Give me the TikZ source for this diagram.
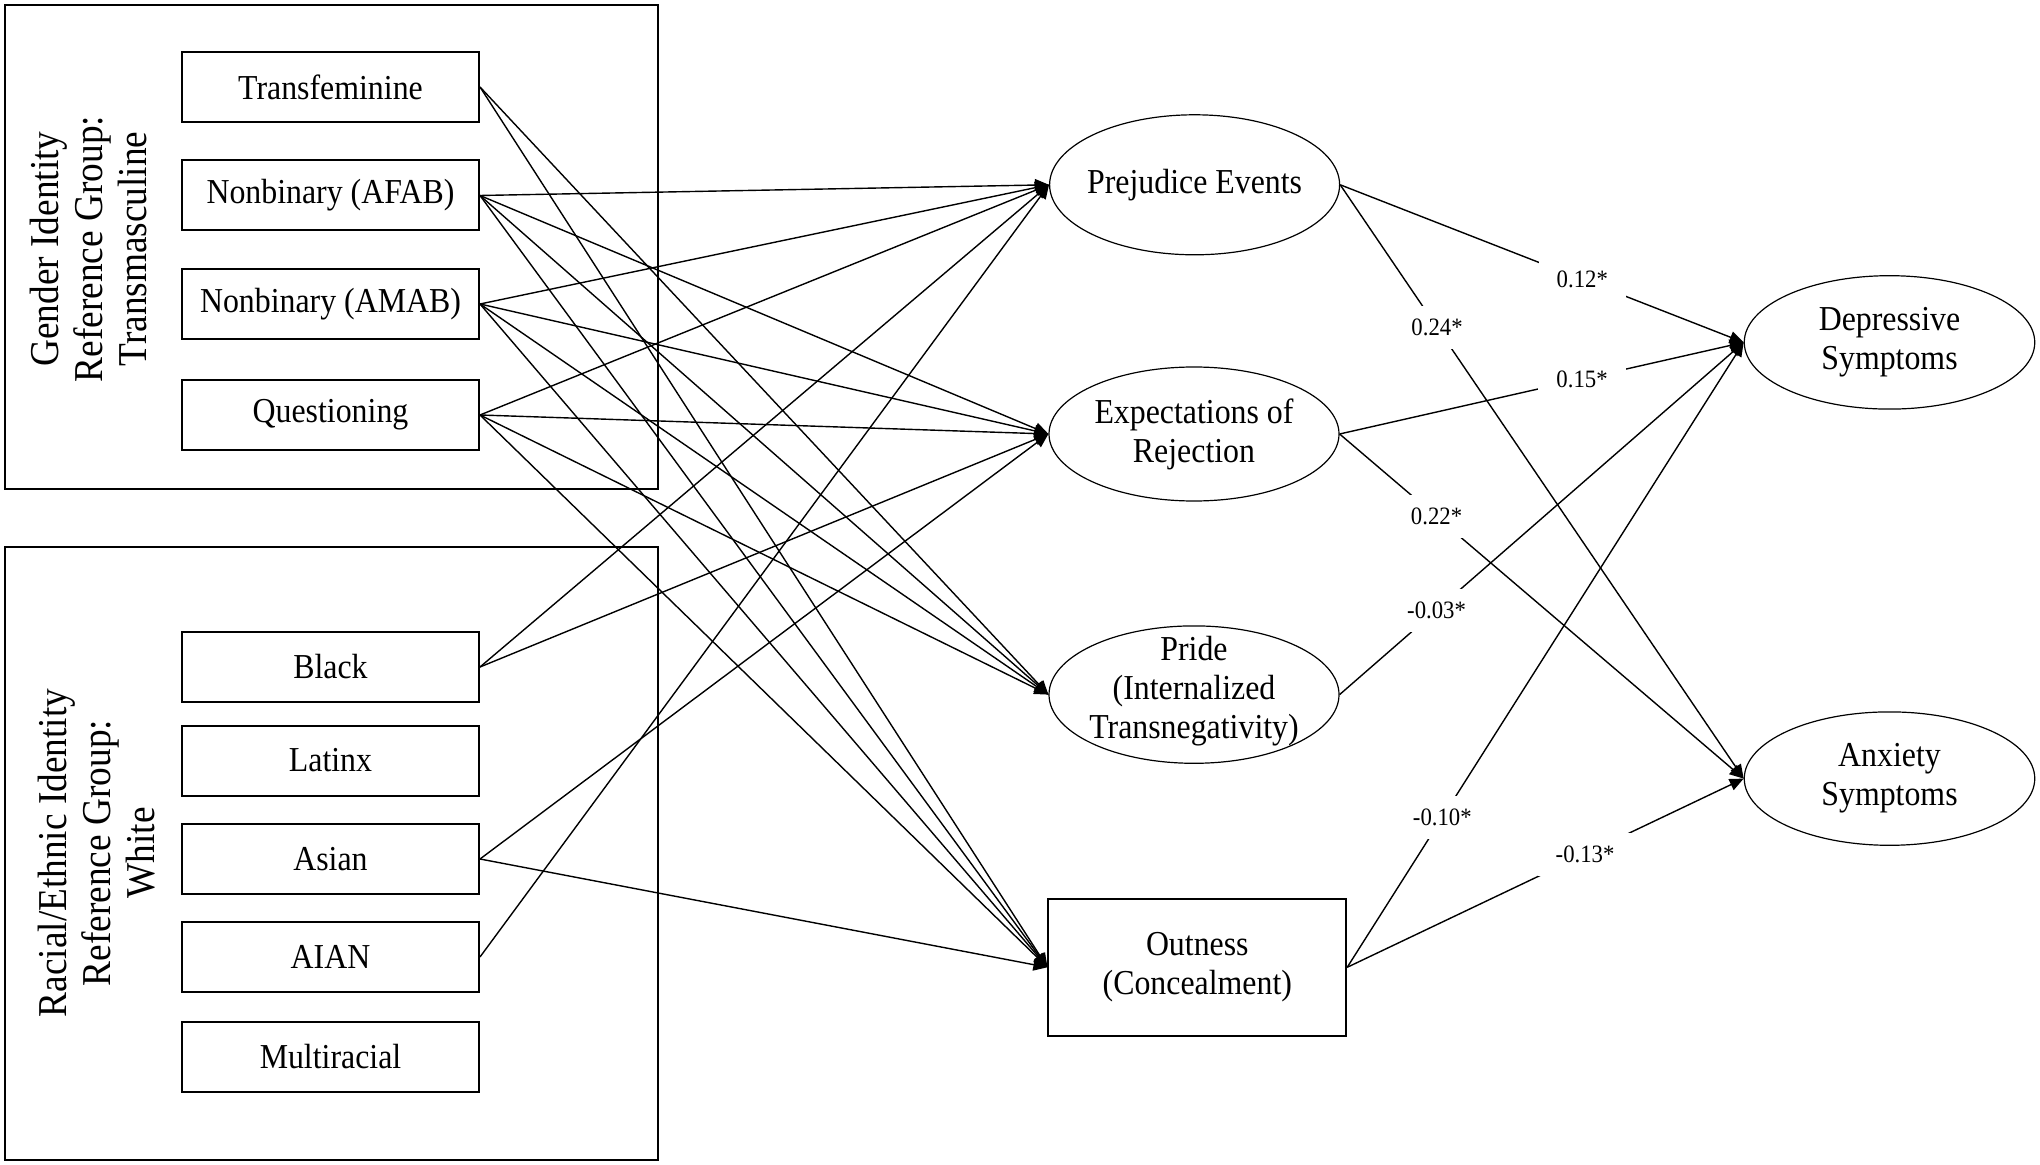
\documentclass[tikz,border=0pt]{standalone}
\usepackage{fontspec}
\setmainfont[FakeStretch=0.91]{Liberation Serif}
\usetikzlibrary{arrows.meta,shapes.geometric}
\begin{document}
\begin{tikzpicture}[x=0.5pt,y=-0.5pt,
  every node/.style={font=\fontsize{17.5}{19.5}\selectfont},
  grp/.style={draw,line width=1pt,inner sep=0,minimum width=326.5pt},
  var/.style={draw,line width=1pt,inner sep=0,minimum width=148.5pt,minimum height=35pt},
  ell/.style={draw,ellipse,line width=0.6pt,inner sep=0,minimum width=145pt,minimum height=68pt},
  lab/.style={align=center,inner sep=0},
  conn/.style={line width=0.7pt,-{Triangle[length=7pt,width=6pt]}},
  coef/.style={fill=white,inner xsep=9pt,inner ysep=6.5pt,font=\fontsize{12.5}{14}\selectfont},
  side/.style={rotate=90,align=center,inner sep=0,font=\fontsize{20.5}{22}\selectfont}
]
\useasboundingbox (0,0) rectangle (2040,1165);

% group frames
\node[grp,minimum height=242pt] (g1) at (331.5,247) {};
\node[grp,minimum height=306.5pt] (g2) at (331.5,853.5) {};
\node[side] (g1t) at (88,249) {Gender Identity\\Reference Group:\\Transmasculine};
\node[side] (g2t) at (97,853) {Racial/Ethnic Identity\\Reference Group:\\White};

% exogenous variables
\node[var] (tf) at (330.5,87) {Transfeminine};
\node[var] (afab) at (330.5,195.5) {Nonbinary (AFAB)};
\node[var] (amab) at (330.5,304) {Nonbinary (AMAB)};
\node[var] (q) at (330.5,415) {Questioning};
\node[var] (black) at (330.5,667) {Black};
\node[var] (latinx) at (330.5,760.5) {Latinx};
\node[var] (asian) at (330.5,859) {Asian};
\node[var] (aian) at (330.5,957) {AIAN};
\node[var] (multi) at (330.5,1056.5) {Multiracial};

% mediators
\node[ell,minimum height=70pt] (prej) at (1194.6,184.8) {};
\node[lab] (prejt) at (prej.center) {Prejudice Events};
\node[ell,minimum height=67pt] (exp) at (1194,434) {};
\node[lab] (expt) at (exp.center) {Expectations of\\Rejection};
\node[ell,minimum height=68.7pt] (pride) at (1194,694.6) {};
\node[lab] (pridet) at (1194,691) {Pride\\(Internalized\\Transnegativity)};
\node[draw,line width=1pt,inner sep=0,minimum width=148.9pt,minimum height=68.8pt] (out) at (1197.3,967.3) {};
\node[lab] (outt) at (out.center) {Outness\\(Concealment)};

% outcomes
\node[ell,minimum width=145.25pt,minimum height=66.7pt] (dep) at (1889.5,342.4) {};
\node[lab] (dept) at (dep.center) {Depressive\\Symptoms};
\node[ell,minimum width=145.25pt,minimum height=66.7pt] (anx) at (1889.5,778.6) {};
\node[lab] (anxt) at (anx.center) {Anxiety\\Symptoms};

% predictor paths
\foreach \s/\t in {afab/prej, amab/prej, q/prej, black/prej, aian/prej,
                   afab/exp, amab/exp, q/exp, black/exp, asian/exp,
                   tf/pride, afab/pride, amab/pride, q/pride,
                   tf/out, afab/out, amab/out, q/out, asian/out}
  \draw[conn] (\s.east) -- (\t.west);

% outcome paths
\draw[conn] (prej.east) -- node[coef,pos=0.6] {0.12*} (dep.west);
\draw[conn] (prej.east) -- node[coef,pos=0.24] {0.24*} (anx.west);
\draw[conn] (exp.east) -- node[coef,pos=0.6] {0.15*} (dep.west);
\draw[conn] (exp.east) -- node[coef,pos=0.24] {0.22*} (anx.west);
\draw[conn] (pride.east) -- node[coef,pos=0.24] {-0.03*} (dep.west);
\draw[conn] (out.east) -- node[coef,pos=0.24] {-0.10*} (dep.west);
\draw[conn] (out.east) -- node[coef,pos=0.6] {-0.13*} (anx.west);
\end{tikzpicture}
\end{document}
